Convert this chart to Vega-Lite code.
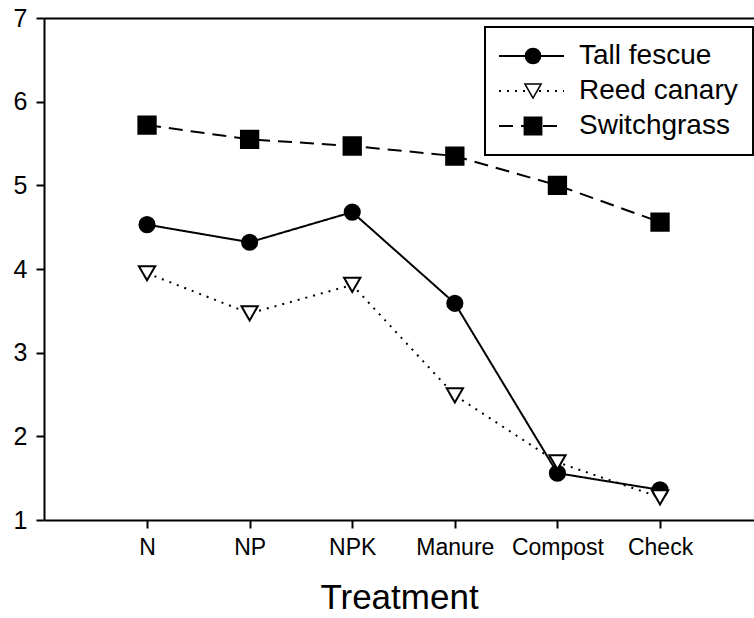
{
  "$schema": "https://vega.github.io/schema/vega-lite/v6.json",
  "width": 710,
  "height": 502,
  "autosize": "none",
  "padding": {"left": 44, "top": 18, "right": 0, "bottom": 98},
  "config": {
    "font": "Liberation Sans",
    "view": {"stroke": null},
    "axis": {"grid": false, "domainColor": "#000000", "domainWidth": 2, "tickColor": "#000000", "tickWidth": 2, "labelColor": "#000000", "titleColor": "#000000"}
  },
  "data": {
    "values": [
      {"treatment": "N", "species": "Tall fescue", "value": 4.53},
      {"treatment": "NP", "species": "Tall fescue", "value": 4.32},
      {"treatment": "NPK", "species": "Tall fescue", "value": 4.68},
      {"treatment": "Manure", "species": "Tall fescue", "value": 3.59},
      {"treatment": "Compost", "species": "Tall fescue", "value": 1.56},
      {"treatment": "Check", "species": "Tall fescue", "value": 1.36},
      {"treatment": "N", "species": "Reed canary", "value": 3.95},
      {"treatment": "NP", "species": "Reed canary", "value": 3.47},
      {"treatment": "NPK", "species": "Reed canary", "value": 3.81},
      {"treatment": "Manure", "species": "Reed canary", "value": 2.49},
      {"treatment": "Compost", "species": "Reed canary", "value": 1.69},
      {"treatment": "Check", "species": "Reed canary", "value": 1.27},
      {"treatment": "N", "species": "Switchgrass", "value": 5.72},
      {"treatment": "NP", "species": "Switchgrass", "value": 5.55},
      {"treatment": "NPK", "species": "Switchgrass", "value": 5.47},
      {"treatment": "Manure", "species": "Switchgrass", "value": 5.35},
      {"treatment": "Compost", "species": "Switchgrass", "value": 5.0},
      {"treatment": "Check", "species": "Switchgrass", "value": 4.56}
    ]
  },
  "resolve": {"axis": {"x": "independent"}},
  "layer": [
    {
      "mark": {"type": "line", "color": "black", "strokeWidth": 2},
      "encoding": {
        "x": {
          "field": "treatment", "type": "ordinal", "sort": ["N", "NP", "NPK", "Manure", "Compost", "Check"],
          "scale": {"type": "point", "padding": 0.96, "align": 0.523},
          "axis": {"orient": "bottom", "title": "Treatment", "labelAngle": 0, "labelFontSize": 23, "titleFontSize": 35, "titleFontWeight": "normal", "ticks": true, "tickSize": 8, "labelPadding": 8, "titlePadding": 21}
        },
        "y": {
          "field": "value", "type": "quantitative",
          "scale": {"domain": [1, 7], "nice": false, "zero": false},
          "axis": {"title": null, "values": [1, 2, 3, 4, 5, 6, 7], "format": "d", "labelFontSize": 25, "ticks": true, "tickSize": 8, "labelPadding": 9}
        },
        "strokeDash": {
          "field": "species", "type": "nominal", "sort": null,
          "scale": {"range": [[1, 0], [2, 6], [14, 8]]},
          "legend": {
            "orient": "none", "legendX": 441, "legendY": 9, "title": null,
            "symbolType": "M-3,0H10", "symbolSize": 100, "symbolStrokeWidth": 2, "symbolStrokeColor": "black",
            "labelFontSize": 28, "labelColor": "black", "labelOffset": 51, "rowPadding": 7, "padding": 15,
            "strokeColor": "black",
            "encode": {"legend": {"update": {"strokeWidth": {"value": 2}}}}
          }
        }
      }
    },
    {
      "mark": {"type": "point", "filled": true, "stroke": "black", "strokeWidth": 2, "opacity": 1},
      "encoding": {
        "x": {
          "field": "treatment", "type": "ordinal", "sort": ["N", "NP", "NPK", "Manure", "Compost", "Check"],
          "axis": {"orient": "top", "title": null, "labels": false, "ticks": false, "domain": true}
        },
        "y": {
          "field": "value", "type": "quantitative",
          "axis": {"title": null, "values": [1, 2, 3, 4, 5, 6, 7], "format": "d", "labelFontSize": 25, "ticks": true, "tickSize": 8, "labelPadding": 9}
        },
        "shape": {
          "field": "species", "type": "nominal",
          "scale": {"domain": ["Tall fescue", "Reed canary", "Switchgrass"], "range": ["circle", "triangle-down", "square"]},
          "legend": {
            "orient": "none", "legendX": 460, "legendY": 9, "title": null,
            "labelFontSize": 28, "labelExpr": "''", "rowPadding": 7, "padding": 15
          }
        },
        "fill": {
          "field": "species", "type": "nominal",
          "scale": {"domain": ["Tall fescue", "Reed canary", "Switchgrass"], "range": ["black", "white", "black"]},
          "legend": {
            "orient": "none", "legendX": 460, "legendY": 9, "title": null,
            "labelFontSize": 28, "labelExpr": "''", "rowPadding": 7, "padding": 15
          }
        },
        "size": {
          "field": "species", "type": "nominal",
          "scale": {"domain": ["Tall fescue", "Reed canary", "Switchgrass"], "range": [230, 300, 240]},
          "legend": {
            "orient": "none", "legendX": 460, "legendY": 9, "title": null,
            "labelFontSize": 28, "labelExpr": "''", "rowPadding": 7, "padding": 15
          }
        }
      }
    }
  ]
}
